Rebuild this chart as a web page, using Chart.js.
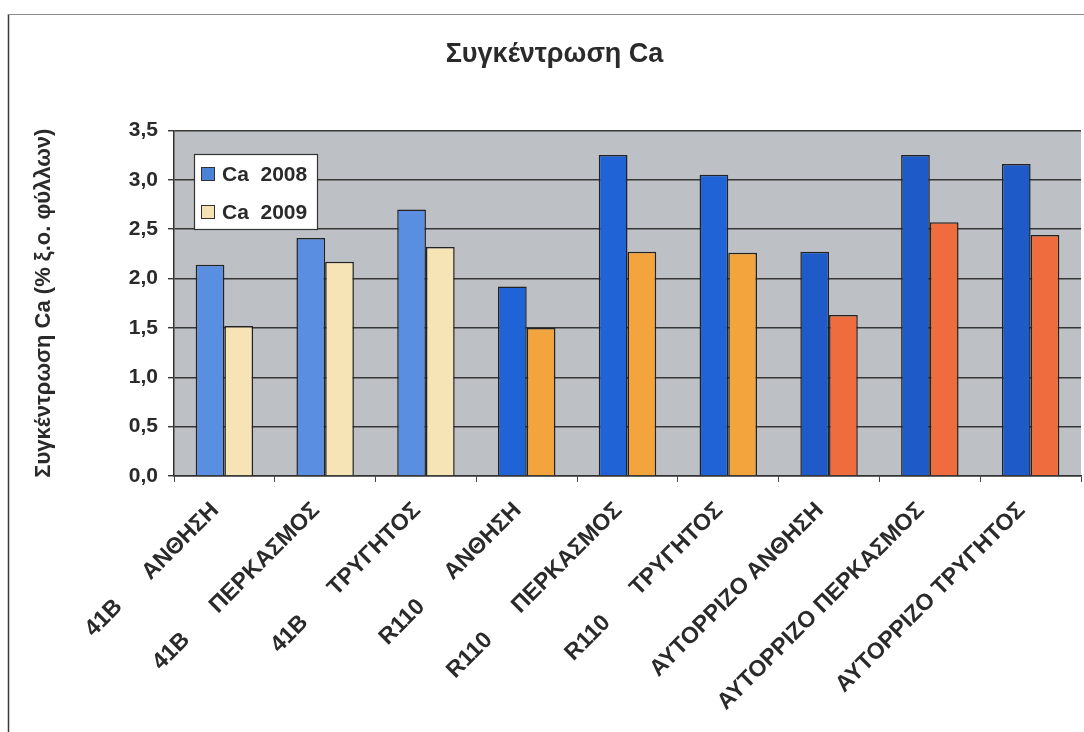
<!DOCTYPE html>
<html>
<head>
<meta charset="utf-8">
<title>Συγκέντρωση Ca</title>
<script src="https://cdn.jsdelivr.net/npm/chart.js@4.4.1/dist/chart.umd.min.js"></script>
<style>
  html, body { margin: 0; padding: 0; background: #ffffff; }
  #wrap { width: 1084px; height: 732px; position: relative; }
</style>
</head>
<body>
<div id="wrap"><canvas id="chart" width="1084" height="732"></canvas></div>
<script>
// Rootstock / stage categories
const categories = [
  '41B      ΑΝΘΗΣΗ',
  '41B      ΠΕΡΚΑΣΜΟΣ',
  '41B      ΤΡΥΓΗΤΟΣ',
  'R110      ΑΝΘΗΣΗ',
  'R110      ΠΕΡΚΑΣΜΟΣ',
  'R110      ΤΡΥΓΗΤΟΣ',
  'ΑΥΤΟΡΡΙΖΟ ΑΝΘΗΣΗ',
  'ΑΥΤΟΡΡΙΖΟ ΠΕΡΚΑΣΜΟΣ',
  'ΑΥΤΟΡΡΙΖΟ ΤΡΥΓΗΤΟΣ'
];

// Ca concentration, % of leaf dry matter
const ca2008 = [2.14, 2.41, 2.70, 1.92, 3.25, 3.05, 2.27, 3.25, 3.16];
const ca2009 = [1.52, 2.17, 2.32, 1.50, 2.27, 2.26, 1.63, 2.57, 2.44];

const seriesNames = ['Ca  2008', 'Ca  2009'];
const chartTitle = 'Συγκέντρωση Ca';
const yAxisTitle = 'Συγκέντρωση Ca (% ξ.ο. φύλλων)';

// Bar fills per rootstock group
const fill2008 = ['#5a8ee0', '#5a8ee0', '#5a8ee0', '#1f63d6', '#1f63d6', '#1f63d6', '#1f5bc8', '#1f5bc8', '#1f5bc8'];
const fill2009 = ['#f7e4b6', '#f7e4b6', '#f7e4b6', '#f3a43c', '#f3a43c', '#f3a43c', '#ef6c3e', '#ef6c3e', '#ef6c3e'];
const legendSwatch = ['#4a82d8', '#f2e2b4'];

const FONT = "'Liberation Sans', Arial, sans-serif";
const INK = '#2a2a2a';

// Plot-area fill and outer frame lines
const backdrop = {
  id: 'backdrop',
  beforeDraw(chart) {
    const { ctx, chartArea: a } = chart;
    ctx.save();
    ctx.fillStyle = '#bdc1c5';
    ctx.fillRect(a.left, a.top, a.right - a.left, a.bottom - a.top);
    ctx.strokeStyle = '#3a3a3a';
    ctx.lineWidth = 1.5;
    ctx.beginPath();
    ctx.moveTo(8.5, 14);
    ctx.lineTo(8.5, 732);
    ctx.stroke();
    ctx.strokeStyle = '#8a8a8a';
    ctx.lineWidth = 1.2;
    ctx.beginPath();
    ctx.moveTo(8, 14.5);
    ctx.lineTo(1084, 14.5);
    ctx.stroke();
    ctx.restore();
  }
};

// Boxed legend drawn inside the plot area
const boxLegend = {
  id: 'boxLegend',
  afterDraw(chart) {
    const { ctx } = chart;
    const x = 194, y = 154, w = 123, h = 75;
    ctx.save();
    ctx.fillStyle = '#ffffff';
    ctx.fillRect(x, y, w, h);
    ctx.strokeStyle = '#333333';
    ctx.lineWidth = 1.2;
    ctx.strokeRect(x + 0.5, y + 0.5, w, h);
    ctx.font = 'bold 21px ' + FONT;
    ctx.textBaseline = 'middle';
    chart.data.datasets.forEach((ds, i) => {
      const cy = y + 20 + i * 38;
      ctx.fillStyle = legendSwatch[i];
      ctx.fillRect(x + 7, cy - 7, 13, 13);
      ctx.strokeStyle = '#333333';
      ctx.lineWidth = 1;
      ctx.strokeRect(x + 7.5, cy - 6.5, 13, 13);
      ctx.fillStyle = INK;
      ctx.fillText(ds.label, x + 28, cy + 1);
    });
    ctx.restore();
  }
};

new Chart(document.getElementById('chart'), {
  type: 'bar',
  data: {
    labels: categories,
    datasets: [
      { label: seriesNames[0], data: ca2008, backgroundColor: fill2008, borderColor: '#222222', borderWidth: 1.5 },
      { label: seriesNames[1], data: ca2009, backgroundColor: fill2009, borderColor: '#222222', borderWidth: 1.5 }
    ]
  },
  options: {
    responsive: false,
    animation: false,
    devicePixelRatio: 1,
    layout: { padding: { left: 28, right: 3, top: 0, bottom: 0 } },
    datasets: { bar: { categoryPercentage: 0.57, barPercentage: 1.0 } },
    plugins: {
      legend: { display: false },
      tooltip: { enabled: false },
      title: {
        display: true,
        text: chartTitle,
        color: INK,
        font: { family: FONT, size: 27, weight: 'bold' },
        padding: { top: 38, bottom: 60 }
      }
    },
    scales: {
      x: {
        grid: { display: true, drawOnChartArea: false, drawTicks: true, tickLength: 6, color: '#444444', offset: true },
        border: { display: true, color: '#333333', width: 1.5 },
        ticks: {
          autoSkip: false, maxRotation: 45, minRotation: 45, padding: 6,
          color: INK, font: { family: FONT, size: 23, weight: 'bold' },
          // trailing gap keeps each rotated label clear of its tick
          callback: (v, i) => categories[i] + '  '
        },
        afterFit(scale) { scale.height = 732 - 476; }
      },
      y: {
        min: 0, max: 3.5,
        grid: { color: '#363636', lineWidth: 1.4, drawTicks: true, tickLength: 6 },
        border: { display: true, color: '#333333', width: 1.5 },
        ticks: {
          stepSize: 0.5, padding: 10, color: INK,
          font: { family: FONT, size: 21, weight: 'bold' },
          callback: (v) => Number(v).toFixed(1).replace('.', ',')
        },
        title: {
          display: true, text: yAxisTitle, color: INK,
          font: { family: FONT, size: 22, weight: 'bold' },
          padding: { top: 3, bottom: 4 }
        },
        afterFit(scale) { scale.width = 174 - 28; }
      }
    }
  },
  plugins: [backdrop, boxLegend]
});
</script>
</body>
</html>
